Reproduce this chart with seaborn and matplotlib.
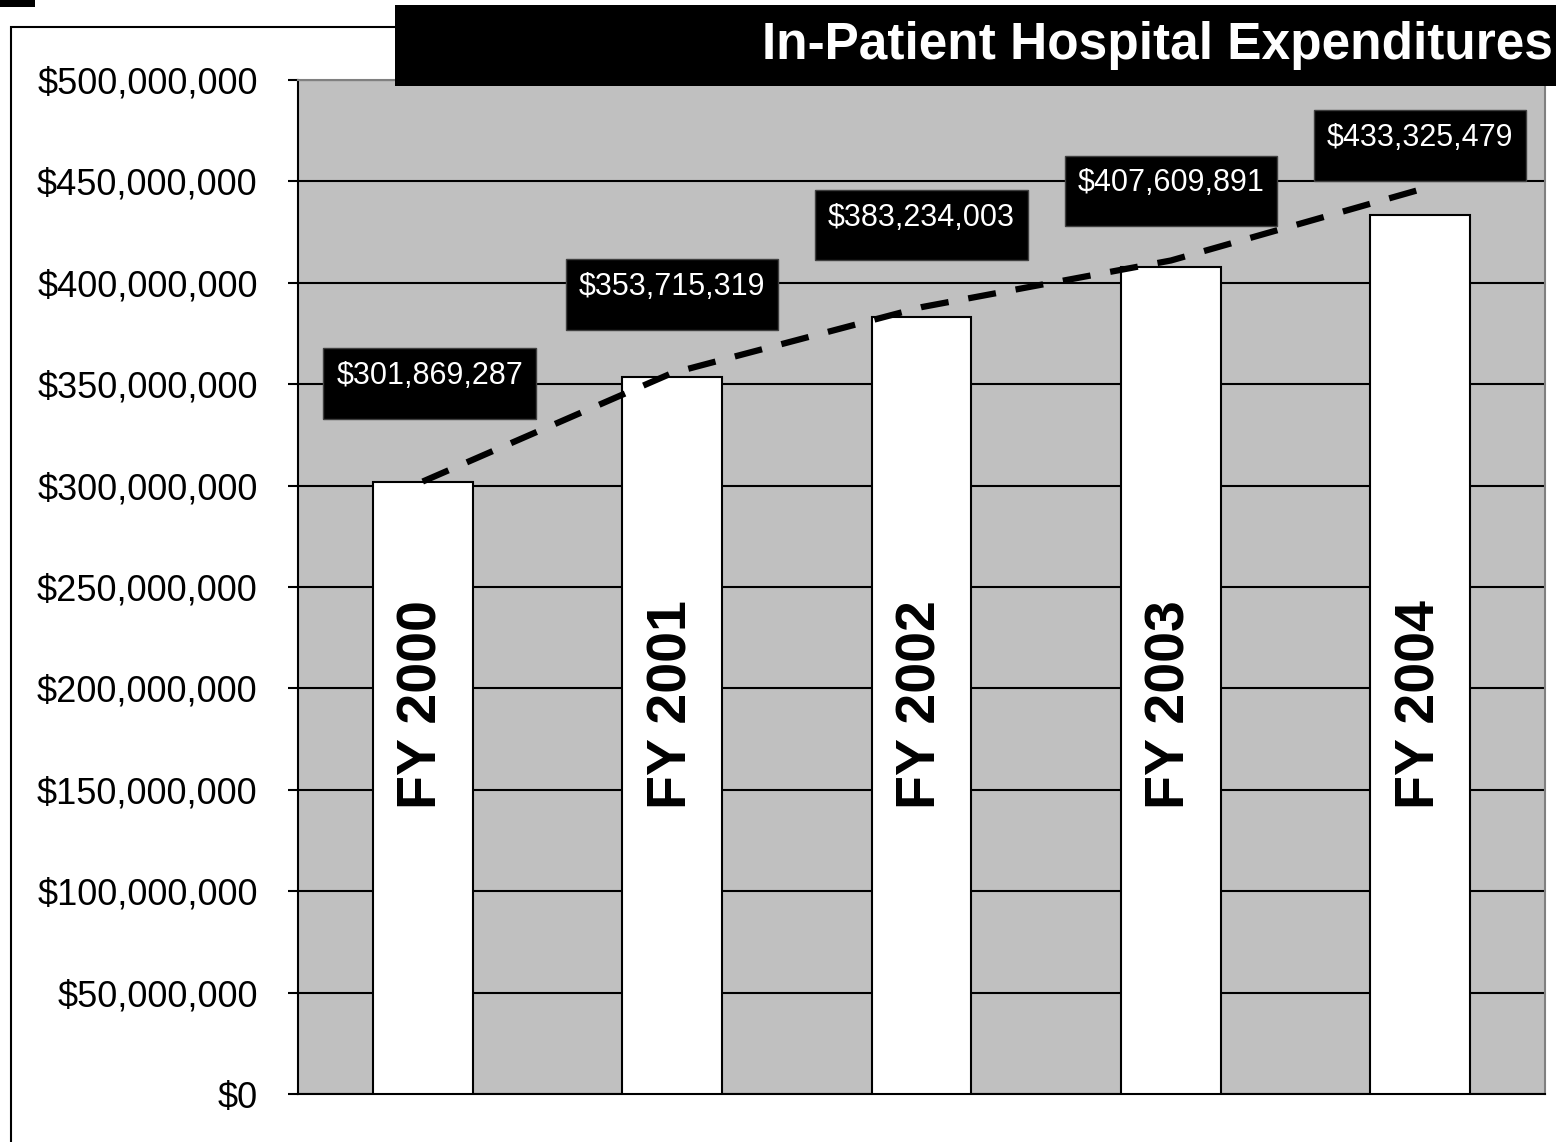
import pandas as pd
import matplotlib.pyplot as plt
import seaborn as sns
from matplotlib.patches import Rectangle
from matplotlib.ticker import FuncFormatter

# Data
years = ["FY 2000", "FY 2001", "FY 2002", "FY 2003", "FY 2004"]
expenditures = [301869287, 353715319, 383234003, 407609891, 433325479]
trend = [302000000, 355500000, 388000000, 411000000, 446000000]

df = pd.DataFrame({"year": years, "spend": expenditures, "trend": trend})

sns.set_style("white")
plt.rcParams["font.family"] = ["Liberation Sans", "DejaVu Sans"]

fig = plt.figure(figsize=(15.56, 11.42), dpi=100)
ax = fig.add_axes([298 / 1556, 1 - 1094 / 1142, 1247 / 1556, 1014 / 1142])
ax.set_facecolor("#c0c0c0")

sns.barplot(data=df, x="year", y="spend", color="white", edgecolor="black",
            linewidth=1.5, width=0.4, saturation=1, ax=ax, zorder=3)
sns.lineplot(x=range(len(years)), y=df["trend"], color="black", lw=4.5,
             linestyle=(0, (4.5, 3.2)), ax=ax, zorder=4)

ax.set_ylim(0, 500000000)
ax.set_xlim(-0.5, len(years) - 0.5)
ax.set_yticks(range(0, 500000001, 50000000))
ax.yaxis.set_major_formatter(FuncFormatter(lambda v, p: f"${v:,.0f}"))
ax.grid(axis="y", color="black", lw=1.5, zorder=1)
ax.set_axisbelow(True)
ax.set_xticks([])
ax.set_xlabel("")
ax.set_ylabel("")
ax.tick_params(axis="y", direction="out", length=7, width=1.5, color="black",
               pad=22, labelsize=26, labelcolor="black", left=True)
for side in ["left", "bottom"]:
    ax.spines[side].set_color("black")
    ax.spines[side].set_linewidth(1.5)
for side in ["top", "right"]:
    ax.spines[side].set_color("#808080")
    ax.spines[side].set_linewidth(1.5)

# value labels in black boxes and year labels inside the bars
label_lift = [71, 59, 66, 55, 50]
for i, (v, yr) in enumerate(zip(expenditures, years)):
    ax.annotate(f"${v:,}\n", (i, v), xytext=(5 if i == 0 else 0, label_lift[i]),
                textcoords="offset points", ha="center", va="center",
                color="white", fontsize=22, linespacing=0.35, zorder=6,
                bbox=dict(boxstyle="square,pad=0.42", fc="black", ec="#404040", lw=1))
    ax.text(i, 0.384, yr, transform=ax.get_xaxis_transform(), rotation=90,
            ha="center", va="center", fontsize=40, fontweight="bold",
            color="black", zorder=5)

# outer frame and title banner
fig.add_artist(Rectangle((11 / 1556, -0.1), 1.2, 1 - 27 / 1142 + 0.1,
                         transform=fig.transFigure, fill=False, ec="black", lw=1.5))
fig.add_artist(Rectangle((0, 1 - 7 / 1142), 35 / 1556, 7 / 1142,
                         transform=fig.transFigure, fc="black", ec="none"))
fig.add_artist(Rectangle((395 / 1556, 1 - 86 / 1142), 1.0, 81 / 1142,
                         transform=fig.transFigure, fc="black", ec="none", zorder=10))
fig.text(1553 / 1556, 1 - 46 / 1142, "In-Patient Hospital Expenditures",
         ha="right", va="center", color="white", fontsize=37, fontweight="bold",
         zorder=11)

fig.savefig("out.png", dpi=100)
